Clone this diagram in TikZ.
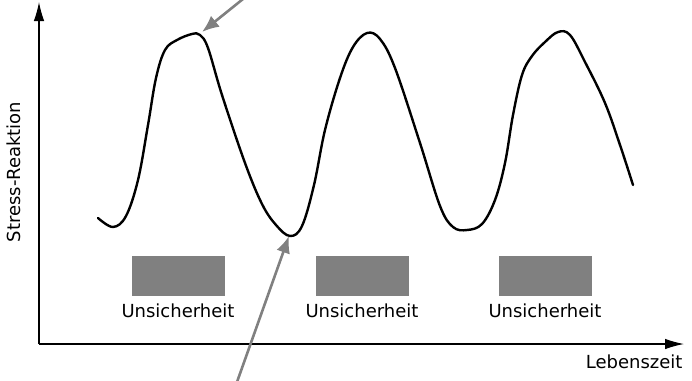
\documentclass[tikz,border=0pt]{standalone}
\usepackage{fontspec}
\setmainfont{DejaVu Sans}
\usetikzlibrary{arrows.meta,positioning}

\begin{document}
\begin{tikzpicture}[>={Latex[length=19pt,width=10.5pt]}, x=1pt, y=-1pt, font=\fontsize{18}{21}\selectfont]
		\useasboundingbox (0,0) rectangle (692,380);
		\tikzset{box/.style={fill=gray, draw=none, minimum width=93pt, minimum height=40pt, inner sep=0pt},
			pfeil/.style={-{Latex[length=17pt,width=14pt]}, draw=gray, fill=gray, line width=2.6pt}}
		%Achsen
		\coordinate (O) at (39,344);
		\coordinate (ytop) at (39,2);
		\coordinate (xend) at (684,344);
		\draw [->, line width=1.2pt] (O) -- (ytop);
		\draw [->, line width=1.2pt] (O) -- (xend);
		\node [rotate=90] (ylab) at (14,172) {Stress-Reaktion};
		\node [anchor=east] (xlab) at (686,362) {Lebenszeit};
		%Kurve
		\draw [line width=2.4pt, line join=round, line cap=round] plot [smooth, tension=0.6] coordinates {
			(98,218) (113,227) (126,216) (138,180) (148,125) (156,78) (165,50) (177,40) (192,34) (200,35)
			(208,48) (222,95) (245,163) (262,204) (276,225) (290,236) (302,226) (314,185) (325,130) (340,78)
			(353,47) (367,33) (380,39) (395,68) (420,143) (440,206) (453,227) (467,230) (482,224) (495,200)
			(505,163) (513,115) (522,75) (532,56) (545,42) (558,32) (570,35) (585,62) (605,103) (620,145)
			(633,185)};
		\coordinate (spitze) at (202,32);
		\coordinate (tal) at (289,236);
		%Unsicherheit
		\foreach \i/\x in {1/178, 2/362, 3/545} {
			\node [box] (b\i) at (\x,276) {};
			\node [below=4pt of b\i] (u\i) {Unsicherheit};
		}
		%Pfeile
		\coordinate (s0) at (243,-1);
		\coordinate (t0) at (237,382);
		\draw [pfeil] (s0) -- (spitze);
		\draw [pfeil] (t0) -- (tal);
	\end{tikzpicture}
\end{document}
